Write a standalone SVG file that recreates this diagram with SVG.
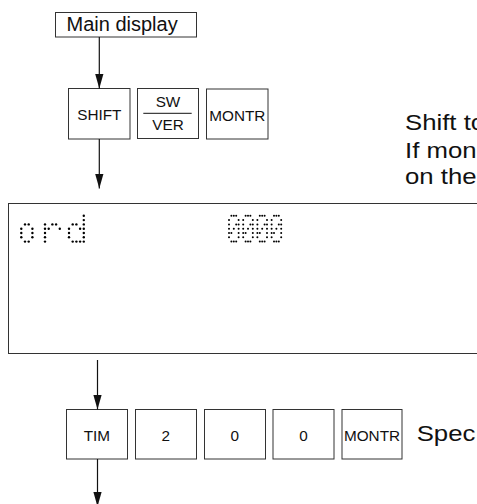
<svg xmlns="http://www.w3.org/2000/svg" xmlns:xlink="http://www.w3.org/1999/xlink" width="477" height="504" viewBox="0 0 477 504">
<style>
  .box{fill:#fff;stroke:#333;stroke-width:1}
  .key{font-family:"Liberation Sans",Arial,sans-serif;font-size:15.3px;fill:#111;text-anchor:middle}
  .big{font-family:"Liberation Sans",Arial,sans-serif;font-size:23px;fill:#111}
  .title{font-family:"Liberation Sans",Arial,sans-serif;font-size:20px;fill:#111}
  .conn{stroke:#111;stroke-width:1.2;fill:none;marker-end:url(#ah)}
  .dot{fill:#000}
</style>
<defs>
  <marker id="ah" markerUnits="userSpaceOnUse" markerWidth="15" markerHeight="9" refX="15" refY="4.25" orient="auto">
    <path d="M0,0 L15,4.25 L0,8.5 z" fill="#111"/>
  </marker>
  <circle id="d" r="1.2" class="dot"/>
  <circle id="z" r="1" class="dot"/>
  <!-- dot glyphs: px=3.7 py=4.3 -->
  <g id="g-o">
    <use href="#d" x="3.7" y="8.6"/><use href="#d" x="7.4" y="8.6"/>
    <use href="#d" x="0" y="12.9"/><use href="#d" x="11.1" y="12.9"/>
    <use href="#d" x="0" y="17.2"/><use href="#d" x="11.1" y="17.2"/>
    <use href="#d" x="0" y="21.5"/><use href="#d" x="11.1" y="21.5"/>
    <use href="#d" x="3.7" y="25.8"/><use href="#d" x="7.4" y="25.8"/>
  </g>
  <g id="g-r">
    <use href="#d" x="0" y="8.6"/><use href="#d" x="7.4" y="8.6"/><use href="#d" x="11.1" y="8.6"/>
    <use href="#d" x="0" y="12.9"/><use href="#d" x="3.7" y="12.9"/><use href="#d" x="14.8" y="12.9"/>
    <use href="#d" x="0" y="17.2"/>
    <use href="#d" x="0" y="21.5"/>
    <use href="#d" x="0" y="25.8"/>
  </g>
  <g id="g-d">
    <use href="#d" x="14.8" y="0"/>
    <use href="#d" x="14.8" y="4.3"/>
    <use href="#d" x="3.7" y="8.6"/><use href="#d" x="7.4" y="8.6"/><use href="#d" x="14.8" y="8.6"/>
    <use href="#d" x="0" y="12.9"/><use href="#d" x="11.1" y="12.9"/><use href="#d" x="14.8" y="12.9"/>
    <use href="#d" x="0" y="17.2"/><use href="#d" x="14.8" y="17.2"/>
    <use href="#d" x="0" y="21.5"/><use href="#d" x="14.8" y="21.5"/>
    <use href="#d" x="3.7" y="25.8"/><use href="#d" x="7.4" y="25.8"/><use href="#d" x="11.1" y="25.8"/><use href="#d" x="14.8" y="25.8"/>
  </g>
  <!-- slashed zero: px=2.4 py=4.3 -->
  <g id="g-0">
    <use href="#z" x="2.4" y="0"/><use href="#z" x="4.8" y="0"/><use href="#z" x="7.2" y="0"/>
    <use href="#z" x="0" y="4.3"/><use href="#z" x="9.6" y="4.3"/>
    <use href="#z" x="0" y="8.6"/><use href="#z" x="7.2" y="8.6"/><use href="#z" x="9.6" y="8.6"/>
    <use href="#z" x="0" y="12.9"/><use href="#z" x="4.8" y="12.9"/><use href="#z" x="9.6" y="12.9"/>
    <use href="#z" x="0" y="17.2"/><use href="#z" x="2.4" y="17.2"/><use href="#z" x="9.6" y="17.2"/>
    <use href="#z" x="0" y="21.5"/><use href="#z" x="9.6" y="21.5"/>
    <use href="#z" x="2.4" y="25.8"/><use href="#z" x="4.8" y="25.8"/><use href="#z" x="7.2" y="25.8"/>
  </g>
</defs>
<rect width="477" height="504" fill="#fff"/>

<g id="main-display">
  <rect class="box" x="55.5" y="12.5" width="141" height="24.5" stroke="#111"/>
  <text class="title" x="66.5" y="31">Main display</text>
</g>

<g id="key-shift">
  <rect class="box" x="68.5" y="88.5" width="61.5" height="50.5"/>
  <text class="key" x="99.3" y="120.3">SHIFT</text>
</g>
<g id="key-swver">
  <rect class="box" x="137.5" y="88.5" width="61" height="50" stroke="#111"/>
  <text class="key" x="168" y="107.3">SW</text>
  <line x1="143.3" y1="113.3" x2="191.7" y2="113.3" stroke="#111" stroke-width="1"/>
  <text class="key" x="168" y="130">VER</text>
</g>
<g id="key-montr1">
  <rect class="box" x="206.5" y="89" width="61.5" height="50"/>
  <text class="key" x="237.3" y="121">MONTR</text>
</g>

<g id="note1">
  <text class="big" transform="translate(405,130) scale(1.12,1)">Shift to</text>
  <text class="big" transform="translate(405,158) scale(1.12,1)">If mon</text>
  <text class="big" transform="translate(405,184) scale(1.12,1)">on the</text>
</g>

<g id="display">
  <rect x="8.5" y="203.5" width="480" height="150" fill="#fff" stroke="#333" stroke-width="1"/>
  <use href="#g-o" x="21.3" y="215.8"/>
  <use href="#g-r" x="45" y="215.8"/>
  <use href="#g-d" x="69" y="215.8"/>
  <use href="#g-0" x="229" y="215.8"/>
  <use href="#g-0" x="243.2" y="215.8"/>
  <use href="#g-0" x="257.4" y="215.8"/>
  <use href="#g-0" x="271.6" y="215.8"/>
</g>

<g id="key-tim">
  <rect class="box" x="66.5" y="409.5" width="61" height="49.5"/>
  <text class="key" x="96.8" y="440.5">TIM</text>
</g>
<g id="key-2">
  <rect class="box" x="135.5" y="409.5" width="61" height="49.5"/>
  <text class="key" x="165.8" y="440.5">2</text>
</g>
<g id="key-0a">
  <rect class="box" x="204.5" y="409.5" width="61" height="49.5"/>
  <text class="key" x="234.8" y="440.5">0</text>
</g>
<g id="key-0b">
  <rect class="box" x="273" y="409.5" width="61" height="49.5"/>
  <text class="key" x="303.5" y="440.5">0</text>
</g>
<g id="key-montr2">
  <rect class="box" x="342" y="409.5" width="60" height="49.5"/>
  <text class="key" x="372" y="440.5">MONTR</text>
</g>
<g id="note2">
  <text class="big" transform="translate(416.7,441) scale(1.12,1)">Spec</text>
</g>

<g id="connectors">
  <line class="conn" x1="99.3" y1="37" x2="99.3" y2="88.5"/>
  <line class="conn" x1="99.3" y1="139" x2="99.3" y2="188.5"/>
  <line class="conn" x1="97.5" y1="360" x2="97.5" y2="409.5"/>
  <line class="conn" x1="97.5" y1="459" x2="97.5" y2="506.5"/>
</g>
</svg>
